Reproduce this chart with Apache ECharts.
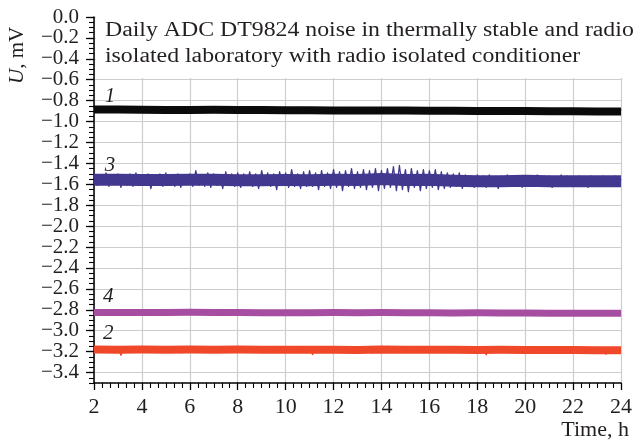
<!DOCTYPE html>
<html>
<head>
<meta charset="utf-8">
<script src="https://cdn.jsdelivr.net/npm/echarts@6/dist/echarts.min.js"></script>
<style>html,body{margin:0;padding:0;background:#fff}#c{width:640px;height:442px}</style>
</head>
<body>
<div id="c"></div>
<script>
// Sampling: one reading every 0.125 h from 2 h to 24 h (177 samples)
const tStart = 2, tStep = 0.125;
// Hourly band centres (2 h ... 24 h)
const hours = [2,3,4,5,6,7,8,9,10,11,12,13,14,15,16,17,18,19,20,21,22,23,24];
const xTicks = [2,4,6,8,10,12,14,16,18,20,22,24];
const yTickLabels = [0,-0.2,-0.4,-0.6,-0.8,-1.0,-1.2,-1.4,-1.6,-1.8,-2.0,-2.2,-2.4,-2.6,-2.8,-3.0,-3.2,-3.4];
const curveNames = ['1','3','4','2'];
const titleText = 'Daily ADC DT9824 noise in thermally stable and radio\nisolated laboratory with radio isolated conditioner';

const core1 = [-0.884,-0.885,-0.886,-0.889,-0.890,-0.888,-0.889,-0.890,-0.891,-0.892,-0.893,-0.893,-0.894,-0.895,-0.896,-0.897,-0.898,-0.899,-0.900,-0.901,-0.902,-0.903,-0.903];
const core3 = [-1.556,-1.557,-1.558,-1.558,-1.557,-1.557,-1.560,-1.560,-1.558,-1.560,-1.557,-1.558,-1.550,-1.558,-1.557,-1.565,-1.570,-1.570,-1.567,-1.570,-1.570,-1.570,-1.570];
const core4 = [-2.825,-2.826,-2.826,-2.827,-2.824,-2.826,-2.827,-2.828,-2.828,-2.828,-2.827,-2.828,-2.827,-2.828,-2.829,-2.831,-2.828,-2.830,-2.831,-2.832,-2.832,-2.833,-2.833];
const core2 = [-3.179,-3.181,-3.180,-3.183,-3.180,-3.182,-3.180,-3.182,-3.181,-3.183,-3.183,-3.184,-3.180,-3.183,-3.181,-3.183,-3.185,-3.183,-3.184,-3.185,-3.185,-3.186,-3.186];

const curve1 = [
-0.862,-0.906,-0.868,-0.902,-0.860,-0.908,-0.870,-0.900,
-0.864,-0.910,-0.866,-0.903,-0.862,-0.907,-0.869,-0.904,
-0.865,-0.908,-0.871,-0.905,-0.863,-0.911,-0.868,-0.906,
-0.867,-0.912,-0.872,-0.909,-0.866,-0.915,-0.870,-0.910,
-0.869,-0.913,-0.874,-0.908,-0.866,-0.912,-0.871,-0.907,
-0.866,-0.910,-0.872,-0.906,-0.864,-0.913,-0.869,-0.908,
-0.868,-0.911,-0.873,-0.909,-0.865,-0.914,-0.871,-0.908,
-0.869,-0.912,-0.874,-0.908,-0.867,-0.915,-0.872,-0.910,
-0.866,-0.916,-0.870,-0.912,-0.864,-0.918,-0.869,-0.913,
-0.868,-0.917,-0.872,-0.911,-0.866,-0.919,-0.871,-0.914,
-0.870,-0.915,-0.874,-0.912,-0.868,-0.918,-0.873,-0.913,
-0.871,-0.916,-0.875,-0.912,-0.869,-0.919,-0.874,-0.915,
-0.872,-0.917,-0.876,-0.913,-0.868,-0.920,-0.875,-0.916,
-0.873,-0.918,-0.877,-0.914,-0.870,-0.921,-0.876,-0.916,
-0.874,-0.919,-0.878,-0.915,-0.871,-0.921,-0.877,-0.917,
-0.875,-0.920,-0.879,-0.916,-0.872,-0.922,-0.878,-0.918,
-0.876,-0.921,-0.880,-0.917,-0.873,-0.923,-0.879,-0.918,
-0.877,-0.922,-0.881,-0.918,-0.874,-0.924,-0.880,-0.919,
-0.878,-0.923,-0.882,-0.919,-0.875,-0.925,-0.881,-0.920,
-0.879,-0.924,-0.883,-0.920,-0.876,-0.926,-0.882,-0.921,
-0.880,-0.925,-0.884,-0.921,-0.877,-0.927,-0.883,-0.922,
-0.881,-0.926,-0.885,-0.922,-0.878,-0.928,-0.884,-0.923,
-0.882];

const curve3 = [
-1.50,-1.61,-1.51,-1.60,-1.49,-1.62,-1.52,-1.60,
-1.50,-1.63,-1.51,-1.61,-1.50,-1.62,-1.49,-1.60,
-1.51,-1.61,-1.50,-1.64,-1.51,-1.60,-1.50,-1.62,
-1.49,-1.61,-1.51,-1.62,-1.50,-1.63,-1.51,-1.60,
-1.50,-1.62,-1.47,-1.61,-1.51,-1.62,-1.49,-1.63,
-1.50,-1.61,-1.51,-1.64,-1.48,-1.61,-1.50,-1.62,
-1.49,-1.63,-1.50,-1.61,-1.48,-1.62,-1.50,-1.64,
-1.47,-1.61,-1.49,-1.62,-1.50,-1.65,-1.48,-1.61,
-1.49,-1.63,-1.46,-1.62,-1.50,-1.64,-1.48,-1.62,
-1.47,-1.62,-1.49,-1.65,-1.47,-1.62,-1.49,-1.64,
-1.46,-1.63,-1.48,-1.66,-1.47,-1.62,-1.45,-1.64,
-1.48,-1.63,-1.46,-1.65,-1.47,-1.63,-1.45,-1.66,
-1.47,-1.64,-1.45,-1.63,-1.43,-1.66,-1.42,-1.65,
-1.46,-1.67,-1.45,-1.63,-1.47,-1.66,-1.46,-1.64,
-1.47,-1.63,-1.46,-1.65,-1.48,-1.64,-1.49,-1.63,
-1.50,-1.62,-1.49,-1.64,-1.51,-1.62,-1.52,-1.63,
-1.51,-1.62,-1.52,-1.63,-1.51,-1.61,-1.53,-1.64,
-1.52,-1.62,-1.51,-1.61,-1.53,-1.62,-1.52,-1.63,
-1.52,-1.61,-1.53,-1.62,-1.51,-1.61,-1.53,-1.62,
-1.52,-1.63,-1.53,-1.61,-1.51,-1.62,-1.52,-1.61,
-1.53,-1.62,-1.52,-1.61,-1.53,-1.63,-1.52,-1.61,
-1.53,-1.62,-1.52,-1.61,-1.53,-1.62,-1.52,-1.61,
-1.55];

const curve4 = [
-2.808,-2.842,-2.810,-2.840,-2.806,-2.845,-2.811,-2.839,
-2.809,-2.843,-2.812,-2.841,-2.807,-2.846,-2.810,-2.840,
-2.808,-2.842,-2.811,-2.844,-2.806,-2.841,-2.810,-2.843,
-2.810,-2.848,-2.812,-2.842,-2.807,-2.845,-2.811,-2.841,
-2.802,-2.842,-2.808,-2.840,-2.806,-2.844,-2.810,-2.841,
-2.808,-2.843,-2.811,-2.841,-2.807,-2.845,-2.810,-2.842,
-2.809,-2.844,-2.812,-2.842,-2.808,-2.846,-2.811,-2.843,
-2.810,-2.845,-2.813,-2.843,-2.809,-2.847,-2.812,-2.844,
-2.811,-2.846,-2.814,-2.843,-2.810,-2.848,-2.812,-2.845,
-2.810,-2.845,-2.813,-2.844,-2.809,-2.847,-2.811,-2.844,
-2.809,-2.844,-2.812,-2.843,-2.808,-2.846,-2.811,-2.843,
-2.810,-2.846,-2.813,-2.844,-2.809,-2.848,-2.812,-2.845,
-2.808,-2.845,-2.811,-2.843,-2.807,-2.847,-2.810,-2.844,
-2.809,-2.846,-2.812,-2.844,-2.808,-2.848,-2.811,-2.845,
-2.810,-2.847,-2.813,-2.845,-2.809,-2.849,-2.812,-2.846,
-2.812,-2.849,-2.815,-2.847,-2.811,-2.851,-2.814,-2.848,
-2.809,-2.846,-2.812,-2.844,-2.808,-2.848,-2.811,-2.845,
-2.811,-2.848,-2.814,-2.846,-2.810,-2.850,-2.813,-2.847,
-2.812,-2.849,-2.815,-2.847,-2.811,-2.851,-2.814,-2.848,
-2.813,-2.850,-2.816,-2.848,-2.812,-2.852,-2.815,-2.849,
-2.813,-2.850,-2.816,-2.848,-2.812,-2.852,-2.815,-2.849,
-2.814,-2.851,-2.817,-2.849,-2.813,-2.853,-2.816,-2.850,
-2.832];

const curve2 = [
-3.158,-3.200,-3.160,-3.198,-3.156,-3.202,-3.161,-3.199,
-3.159,-3.235,-3.162,-3.200,-3.157,-3.203,-3.160,-3.199,
-3.160,-3.201,-3.158,-3.204,-3.161,-3.199,-3.157,-3.202,
-3.161,-3.205,-3.163,-3.201,-3.158,-3.210,-3.162,-3.200,
-3.157,-3.202,-3.160,-3.200,-3.156,-3.204,-3.161,-3.201,
-3.160,-3.203,-3.162,-3.201,-3.158,-3.205,-3.161,-3.202,
-3.159,-3.202,-3.161,-3.200,-3.157,-3.204,-3.160,-3.201,
-3.160,-3.203,-3.162,-3.201,-3.158,-3.205,-3.161,-3.202,
-3.159,-3.204,-3.161,-3.202,-3.157,-3.206,-3.160,-3.203,
-3.160,-3.228,-3.162,-3.203,-3.158,-3.206,-3.161,-3.204,
-3.161,-3.205,-3.163,-3.203,-3.159,-3.207,-3.162,-3.204,
-3.162,-3.206,-3.164,-3.204,-3.160,-3.212,-3.163,-3.205,
-3.158,-3.204,-3.150,-3.203,-3.159,-3.206,-3.162,-3.204,
-3.161,-3.205,-3.163,-3.203,-3.159,-3.207,-3.162,-3.204,
-3.158,-3.204,-3.161,-3.202,-3.157,-3.206,-3.160,-3.203,
-3.161,-3.205,-3.163,-3.203,-3.159,-3.207,-3.162,-3.204,
-3.162,-3.206,-3.164,-3.230,-3.160,-3.208,-3.163,-3.205,
-3.161,-3.205,-3.163,-3.204,-3.159,-3.207,-3.162,-3.205,
-3.162,-3.206,-3.164,-3.204,-3.160,-3.208,-3.163,-3.205,
-3.162,-3.207,-3.164,-3.205,-3.160,-3.209,-3.163,-3.206,
-3.163,-3.207,-3.165,-3.205,-3.161,-3.209,-3.164,-3.206,
-3.163,-3.208,-3.165,-3.225,-3.161,-3.210,-3.164,-3.206,
-3.185];

// Label anchor positions (data space) for curve numbers
const labelAt = {
  '1': [2.67, -0.76],
  '3': [2.67, -1.42],
  '4': [2.60, -2.67],
  '2': [2.60, -3.03]
};

const serif = '"Liberation Serif", "DejaVu Serif", serif';
const ink = '#231f20';

function pairs(vals) {
  return vals.map((v, i) => [tStart + i * tStep, v]);
}
function coreSeries(vals, color, width) {
  return {
    type: 'line', data: vals.map((v, i) => [hours[i], v]), showSymbol: false, symbol: 'none',
    lineStyle: { color: color, width: width, join: 'round', cap: 'butt' },
    animation: false, silent: true, z: 2
  };
}
function mk(name, vals, color, width) {
  return {
    type: 'line', name: name, data: pairs(vals), showSymbol: false, symbol: 'none',
    lineStyle: { color: color, width: width, join: 'round', cap: 'butt' }, itemStyle: { color: color },
    animation: false, silent: true, z: 3,
    markPoint: {
      symbol: 'circle', symbolSize: 0, silent: true, animation: false,
      data: [{ coord: labelAt[name] }],
      label: { show: true, position: 'inside', formatter: name, color: ink,
        fontFamily: serif, fontStyle: 'italic', fontSize: 21 }
    }
  };
}

const chart = echarts.init(document.getElementById('c'), null, { renderer: 'canvas' });
const fmt = v => (Math.abs(v) < 1e-9 ? '0.0' : v.toFixed(1).replace('-', '\u2212'));

const C1 = '#0b0b0b', C3 = '#43388f', C4 = '#a64ea1', C2 = '#f0482a';

chart.setOption({
  backgroundColor: '#fff',
  animation: false,
  title: [{
    text: 'Time, h', right: 11, top: 419, padding: 0,
    textStyle: { fontFamily: serif, fontWeight: 'normal', fontSize: 22, color: ink }
  }],
  graphic: [{
    type: 'rect', silent: true, z: 50,
    shape: { x: 96, y: 0, width: 544, height: 78 },
    style: { fill: '#fff' }
  }, {
    type: 'text', silent: true, z: 51, x: 105, y: 18, scaleX: 1.19,
    style: { text: titleText, fill: ink, font: '20px ' + serif, lineHeight: 26,
      align: 'left', verticalAlign: 'top' }
  }, {
    type: 'text', x: 17, y: 84, rotation: Math.PI / 2, silent: true,
    style: {
      text: '{i|U}, mV', fill: ink, align: 'left', verticalAlign: 'middle',
      font: '21px ' + serif,
      rich: { i: { fontStyle: 'italic', fontFamily: serif, fontSize: 21, fill: ink } }
    }
  }],
  grid: { left: 94, right: 19, top: 17, bottom: 59, containLabel: false },
  xAxis: {
    type: 'value', min: 2, max: 24, interval: 2,
    axisLine: { show: true, onZero: false, lineStyle: { color: '#000', width: 1.5 } },
    axisTick: { show: true, length: 7, lineStyle: { color: '#000', width: 1.3 } },
    minorTick: { show: true, splitNumber: 6, length: 5, lineStyle: { color: '#000', width: 1.1 } },
    splitLine: { show: true, lineStyle: { color: '#cdcdcd', width: 1.2 } },
    axisLabel: { color: ink, fontFamily: serif, fontSize: 22, margin: 13,
      customValues: xTicks }
  },
  yAxis: [{
    type: 'value', min: -3.5, max: 0,
    axisLine: { show: true, lineStyle: { color: '#000', width: 1.5 } },
    axisTick: { show: true, length: 8, customValues: yTickLabels, lineStyle: { color: '#000', width: 1.3 } },
    axisLabel: { show: true, customValues: yTickLabels, formatter: fmt, color: ink,
      fontFamily: serif, fontSize: 21, margin: 15 },
    splitLine: { show: true, lineStyle: { color: '#cdcdcd', width: 1.2 } }
  }, {
    type: 'value', min: -3.5, max: 0, interval: 0.05, position: 'left',
    axisLine: { show: false },
    axisTick: { show: true, length: 5, lineStyle: { color: '#000', width: 1.1 } },
    axisLabel: { show: false },
    splitLine: { show: false }
  }],
  series: [
    coreSeries(core1, C1, 8),
    mk('1', curve1, C1, 1.4),
    coreSeries(core3, C3, 12),
    mk('3', curve3, C3, 1.3),
    coreSeries(core4, C4, 7),
    mk('4', curve4, C4, 1.4),
    coreSeries(core2, C2, 8),
    mk('2', curve2, C2, 1.4)
  ]
});
</script>
</body>
</html>
